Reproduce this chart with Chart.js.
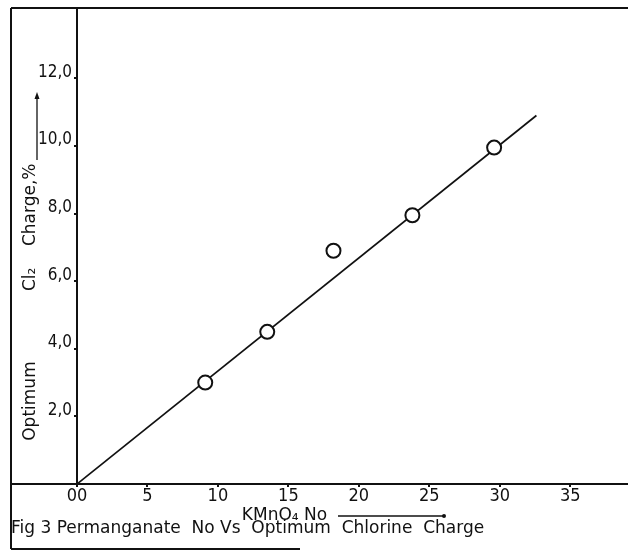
<!DOCTYPE html>
<html lang="en">
<head>
<meta charset="UTF-8">
<title>Permanganate No Vs Optimum Chlorine Charge</title>
<script src="https://cdn.jsdelivr.net/npm/chart.js"></script>
<style>
    html, body { margin: 0; padding: 0; background: #fff; }
    #grafico { display: block; }
</style>
</head>
<body>
<canvas id="grafico" width="628" height="553"></canvas>
<script>
    // values
    var kmno4 = [9.1, 13.5, 18.2, 23.8, 29.6];
    var chlorine = [3.0, 4.5, 6.9, 7.95, 9.95];
    var fitX = [0, 32.6];
    var fitY = [0, 10.9];
    var xTicks = [0, 5, 10, 15, 20, 25, 30, 35];
    var xLabels = ['00', '5', '10', '15', '20', '25', '30', '35'];
    var yTicks = [2, 4, 6, 8, 10, 12];
    var yLabels = ['2,0', '4,0', '6,0', '8,0', '10,0', '12,0'];

    var ink = '#111';
    var tickFont = "'Liberation Sans Narrow', 'DejaVu Sans Condensed', sans-serif";
    var textFont = "'DejaVu Sans', sans-serif";

    // outer frame and the two hand drawn arrows
    var frame = {
        id: 'frame',
        afterDraw(chart) {
            var ctx = chart.ctx;
            var a = chart.chartArea;
            var left = 11;
            ctx.save();
            ctx.strokeStyle = ink;
            ctx.lineWidth = 2;
            ctx.beginPath();
            ctx.moveTo(left, a.top);
            ctx.lineTo(a.right, a.top);
            ctx.moveTo(left, a.top);
            ctx.lineTo(left, 549);
            ctx.moveTo(left, 549);
            ctx.lineTo(300, 549);
            ctx.moveTo(left, a.bottom);
            ctx.lineTo(a.left, a.bottom);
            ctx.stroke();

            ctx.lineWidth = 1.3;
            ctx.fillStyle = ink;
            // y arrow
            ctx.beginPath();
            ctx.moveTo(37, 160);
            ctx.lineTo(37, 97);
            ctx.stroke();
            ctx.beginPath();
            ctx.moveTo(37, 92);
            ctx.lineTo(34.5, 99);
            ctx.lineTo(39.5, 99);
            ctx.closePath();
            ctx.fill();
            // x arrow
            ctx.beginPath();
            ctx.moveTo(338, 516);
            ctx.lineTo(443, 516);
            ctx.stroke();
            ctx.beginPath();
            ctx.arc(444, 516, 2, 0, Math.PI * 2);
            ctx.fill();
            ctx.restore();
        }
    };

    var points = kmno4.map((x, i) => ({ x: x, y: chlorine[i] }));
    var fitLine = fitX.map((x, i) => ({ x: x, y: fitY[i] }));

    new Chart(document.getElementById('grafico'), {
        type: 'scatter',
        data: {
            datasets: [{
                label: 'Optimum Cl2 charge',
                data: points,
                showLine: false,
                pointRadius: 7,
                pointBackgroundColor: '#fff',
                pointBorderColor: ink,
                pointBorderWidth: 2
            }, {
                label: 'fit',
                data: fitLine,
                showLine: true,
                pointRadius: 0,
                borderColor: ink,
                borderWidth: 1.7
            }]
        },
        options: {
            responsive: false,
            animation: false,
            layout: { autoPadding: false, padding: { left: 11, top: 8, right: 0, bottom: 0 } },
            plugins: {
                legend: { display: false },
                tooltip: { enabled: false },
                title: {
                    display: true,
                    position: 'bottom',
                    align: 'start',
                    text: 'Fig 3 Permanganate  No Vs  Optimum  Chlorine  Charge',
                    color: ink,
                    font: { family: textFont, size: 17, weight: 'normal', lineHeight: 1 },
                    padding: { top: 0, bottom: 16 }
                }
            },
            scales: {
                x: {
                    type: 'linear',
                    min: 0,
                    max: 39.1,
                    afterBuildTicks: s => { s.ticks = xTicks.map(v => ({ value: v })); },
                    afterFit: s => {
                        s.height = 36;
                        s.paddingLeft = 0;
                        s.paddingRight = 0;
                    },
                    border: { color: ink, width: 2 },
                    grid: { drawOnChartArea: false, drawTicks: true, tickLength: 3, color: ink, lineWidth: 2 },
                    ticks: {
                        color: ink,
                        padding: -1,
                        maxRotation: 0,
                        autoSkip: false,
                        font: { family: tickFont, size: 18 },
                        callback: v => xLabels[xTicks.indexOf(v)]
                    },
                    title: {
                        display: true,
                        text: 'KMnO₄ No' + '\u2003'.repeat(8),
                        color: ink,
                        font: { family: textFont, size: 17, lineHeight: 1 },
                        padding: { top: 0, bottom: -4 }
                    }
                },
                y: {
                    type: 'linear',
                    position: 'left',
                    min: 0,
                    max: 14.08,
                    afterBuildTicks: s => { s.ticks = yTicks.map(v => ({ value: v })); },
                    afterFit: s => {
                        s.width = 66;
                        s.paddingTop = 0;
                        s.paddingBottom = 0;
                    },
                    border: { color: ink, width: 2 },
                    grid: { drawOnChartArea: false, drawTicks: true, tickLength: 3, color: ink, lineWidth: 2 },
                    ticks: {
                        color: ink,
                        padding: 2,
                        labelOffset: -6,
                        font: { family: tickFont, size: 17 },
                        callback: v => yLabels[yTicks.indexOf(v)]
                    },
                    title: {
                        display: true,
                        align: 'start',
                        text: '        Optimum             Cl₂    Charge,%',
                        color: ink,
                        font: { family: textFont, size: 17, lineHeight: 1.2 },
                        padding: { top: 9, bottom: 0 }
                    }
                }
            }
        },
        plugins: [frame]
    });
</script>
</body>
</html>
